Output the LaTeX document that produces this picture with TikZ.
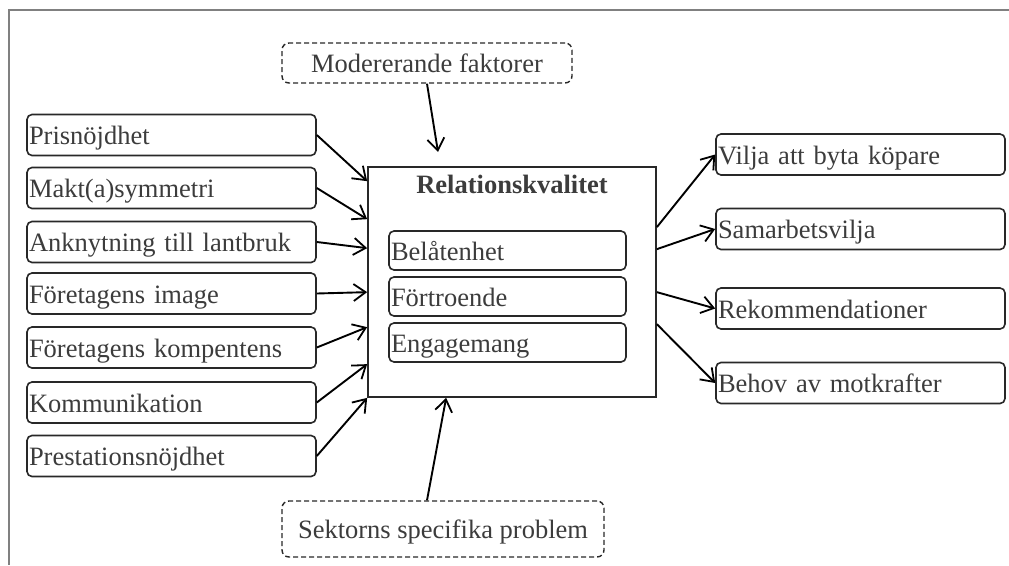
\documentclass[tikz,border=0pt]{standalone}
\usepackage{fontspec}
\setmainfont{Liberation Serif}
\usetikzlibrary{arrows.meta, calc, positioning}
\definecolor{boxline}{RGB}{40,40,40}
\definecolor{boxtext}{RGB}{60,60,60}
\definecolor{frameline}{RGB}{128,128,128}

\begin{document}
\begin{tikzpicture}[x=1pt, y=-1pt,
  font=\fontsize{26.5}{30}\selectfont,
  fbox/.style={draw=boxline, line width=1.6pt, rounded corners=5pt, text=boxtext, inner sep=2pt, text width=285pt, align=left, minimum height=41pt, text height=19pt, text depth=0pt},
  ibox/.style={fbox, text width=233pt, minimum height=39pt},
  dbox/.style={draw=boxline, line width=1.4pt, dash pattern=on 5pt off 3pt, rounded corners=7pt, text=boxtext, minimum width=290pt, minimum height=40pt, text height=19pt, text depth=0pt},
  rqbox/.style={draw=boxline, line width=1.7pt, minimum width=288pt, minimum height=230pt, inner sep=0pt},
  conn/.style={-{Straight Barb[length=12pt, width=17pt, line width=1.8pt]}, line width=1.9pt}
]
  \useasboundingbox (0,0) rectangle (1009,565);
  \fill[white] (0,0) rectangle (1009,565);
  \draw[frameline, line width=1.8pt] (8,10) -- (1009,10);
  \draw[frameline, line width=1.8pt] (9,10) -- (9,565);

  % centre
  \node[rqbox] (rq) at (512,282) {};
  \node[font=\fontsize{26.5}{30}\selectfont\bfseries, text=boxtext, inner sep=0pt, text height=19pt, text depth=0pt] (rqtitle) at (512,184) {Relationskvalitet};
  \node[ibox] (bel) at (507.5,250.5) {Belåtenhet};
  \node[ibox] (fort) at (507.5,296.5) {Förtroende};
  \node[ibox] (eng) at (507.5,342.5) {Engagemang};

  % moderating factors
  \node[dbox] (mod) at (427,63) {Modererande faktorer};
  \node[dbox, minimum width=322pt, minimum height=56pt] (sek) at (443,529) {Sektorns specifika problem};
  \coordinate (modtip) at (438,152);

  % drivers
  \node[fbox] (pris) at (171.5,135) {Prisnöjdhet};
  \node[fbox] (makt) at (171.5,188) {Makt(a)symmetri};
  \node[fbox] (ankn) at (171.5,242) {Anknytning till lantbruk};
  \node[fbox] (img) at (171.5,293.5) {Företagens image};
  \node[fbox] (komp) at (171.5,347.5) {Företagens kompentens};
  \node[fbox] (komm) at (171.5,402.5) {Kommunikation};
  \node[fbox] (prest) at (171.5,456) {Prestationsnöjdhet};

  % outcomes
  \node[fbox] (vilja) at (860.5,154.5) {Vilja att byta köpare};
  \node[fbox] (samarb) at (860.5,229) {Samarbetsvilja};
  \node[fbox] (rekom) at (860.5,308.5) {Rekommendationer};
  \node[fbox] (behov) at (860.5,383) {Behov av motkrafter};

  \draw[conn] (pris.east) -- ($(rq.north west)+(0,15)$);
  \draw[conn] (makt.east) -- ($(rq.north west)+(0,53)$);
  \draw[conn] (ankn.east) -- ($(rq.north west)+(0,82)$);
  \draw[conn] (img.east) -- ($(rq.north west)+(0,126)$);
  \draw[conn] (komp.east) -- ($(rq.north west)+(0,161)$);
  \draw[conn] (komm.east) -- ($(rq.north west)+(0,198)$);
  \draw[conn] (prest.east) -- (rq.south west);

  \draw[conn] ($(rq.north east)+(0,61)$) -- (vilja.west);
  \draw[conn] ($(rq.north east)+(0,83)$) -- (samarb.west);
  \draw[conn] ($(rq.north east)+(0,126)$) -- (rekom.west);
  \draw[conn] ($(rq.north east)+(0,158)$) -- (behov.west);

  \draw[conn] (mod.south) -- (modtip);
  \draw[conn] ($(sek.north)+(-16,0)$) -- ($(rq.south west)+(79,0)$);
\end{tikzpicture}
\end{document}
